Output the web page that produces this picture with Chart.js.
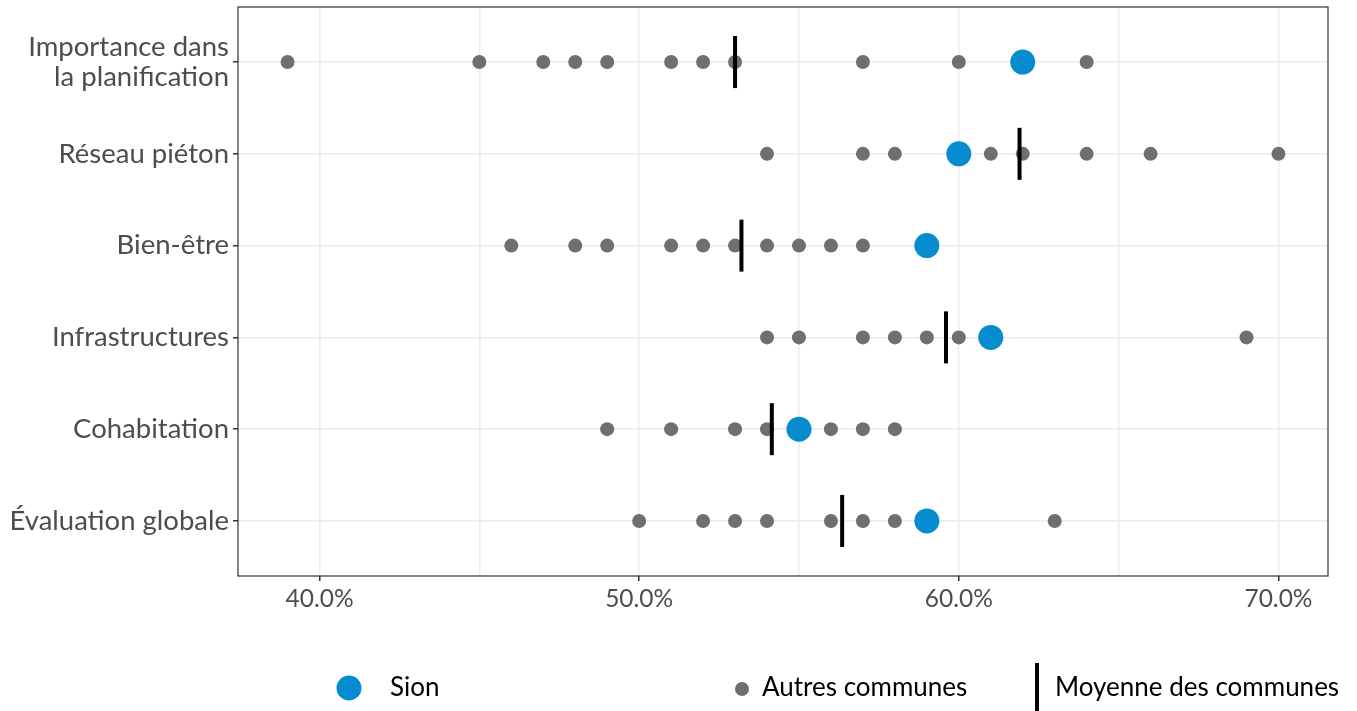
<!DOCTYPE html>
<html>
<head>
<meta charset="utf-8">
<script src="https://cdn.jsdelivr.net/npm/chart.js@4.4.1/dist/chart.umd.min.js"></script>
<style>
  html, body { margin: 0; padding: 0; background: #ffffff; }
  #wrap { position: relative; width: 1357px; height: 711px; }
</style>
</head>
<body>
<div id="wrap"><canvas id="c" width="1357" height="711"></canvas></div>
<script>
// ---- Data (top-to-bottom order of categories) ----
const categories = [
  ["Importance dans", "la planification"],
  "Réseau piéton",
  "Bien-être",
  "Infrastructures",
  "Cohabitation",
  "Évaluation globale"
];
const sionValues = [62, 60, 59, 61, 55, 59];
const meanValues = [53.0, 61.9, 53.2, 59.6, 54.15, 56.35];
const otherValues = [
  [39, 45, 47, 48, 49, 51, 52, 53, 57, 60, 64],
  [54, 57, 58, 61, 62, 64, 66, 70],
  [46, 48, 49, 51, 52, 53, 54, 55, 56, 57],
  [54, 55, 57, 58, 59, 60, 69],
  [49, 51, 53, 54, 56, 57, 58],
  [50, 52, 53, 54, 56, 57, 58, 63]
];
const xTicks = [40, 45, 50, 55, 60, 65, 70];
const legendLabels = ["Sion", "Autres communes", "Moyenne des communes"];

// ---- Build datasets ----
const n = categories.length;
const rowPos = i => n - 1 - i;
const otherPts = [];
otherValues.forEach((arr, i) => arr.forEach(v => otherPts.push({ x: v, y: rowPos(i) })));
const sionPts = sionValues.map((v, i) => ({ x: v, y: rowPos(i) }));
const meanPts = meanValues.map((v, i) => ({ x: v, y: rowPos(i) }));

const BLUE = '#078bcf';
const GREY = '#6f6f6f';
const FONT = 'Lato, "Open Sans", sans-serif';

const panelBorder = {
  id: 'panelBorder',
  beforeDatasetsDraw(chart) {
    const { ctx, chartArea: a } = chart;
    ctx.save();
    ctx.strokeStyle = '#333333';
    ctx.lineWidth = 1.2;
    ctx.strokeRect(a.left, a.top, a.right - a.left, a.bottom - a.top);
    ctx.restore();
  }
};

// y-axis category labels, placed with the y scale
const yLabels = {
  id: 'yLabels',
  afterDraw(chart) {
    const { ctx } = chart;
    const ys = chart.scales.y;
    const xRight = chart.chartArea.left - 9;
    ctx.save();
    ctx.font = '27.5px ' + FONT;
    ctx.fillStyle = '#4d4d4d';
    ctx.textAlign = 'right';
    ctx.textBaseline = 'middle';
    const lh = 30;
    categories.forEach((lab, i) => {
      const y = ys.getPixelForValue(rowPos(i));
      const lines = Array.isArray(lab) ? lab : [lab];
      const y0 = y - (lines.length - 1) * lh / 2;
      lines.forEach((t, k) => ctx.fillText(t, xRight, y0 + k * lh));
    });
    ctx.restore();
  }
};

const customLegend = {
  id: 'customLegend',
  afterDraw(chart) {
    const { ctx } = chart;
    const cy = 688;
    ctx.save();
    ctx.font = '26px ' + FONT;
    ctx.fillStyle = '#000000';
    ctx.textBaseline = 'middle';
    // Sion
    ctx.beginPath(); ctx.fillStyle = BLUE; ctx.arc(349, cy, 12.5, 0, Math.PI * 2); ctx.fill();
    ctx.fillStyle = '#000'; ctx.fillText(legendLabels[0], 390, cy);
    // Autres
    ctx.beginPath(); ctx.fillStyle = GREY; ctx.arc(742, cy + 1, 7, 0, Math.PI * 2); ctx.fill();
    ctx.fillStyle = '#000'; ctx.fillText(legendLabels[1], 762, cy);
    // Moyenne
    ctx.fillStyle = '#000'; ctx.fillRect(1035, 663, 4, 48);
    ctx.fillText(legendLabels[2], 1055, cy);
    ctx.restore();
  }
};

new Chart(document.getElementById('c'), {
  type: 'scatter',
  data: {
    datasets: [
      {
        label: legendLabels[0], data: sionPts, order: 0,
        backgroundColor: BLUE, borderColor: BLUE, borderWidth: 0,
        pointRadius: 12.5, pointHoverRadius: 12.5
      },
      {
        label: legendLabels[2], data: meanPts, order: 1,
        pointStyle: 'line', rotation: 90,
        borderColor: '#000000', backgroundColor: '#000000', borderWidth: 4,
        pointRadius: 26, pointHoverRadius: 26
      },
      {
        label: legendLabels[1], data: otherPts, order: 2,
        backgroundColor: GREY, borderColor: GREY, borderWidth: 0,
        pointRadius: 7, pointHoverRadius: 7
      }
    ]
  },
  options: {
    responsive: false,
    animation: false,
    devicePixelRatio: 1,
    layout: { autoPadding: false, padding: { left: 0, right: 29, top: 7, bottom: 95 } },
    plugins: { legend: { display: false }, tooltip: { enabled: false } },
    scales: {
      x: {
        type: 'linear', min: 37.45, max: 71.55,
        afterBuildTicks: s => { s.ticks = xTicks.map(v => ({ value: v })); },
        afterFit: s => { s.height = 40; },
        border: { display: false },
        grid: {
          color: '#ebebeb', lineWidth: 1.5, drawTicks: true, tickLength: 5,
          tickColor: c => (c.tick && c.tick.value % 10 === 0) ? '#333333' : 'rgba(0,0,0,0)'
        },
        ticks: {
          color: '#4d4d4d', font: { family: FONT, size: 24.5 }, padding: 3,
          maxRotation: 0, autoSkip: false,
          callback: v => (v % 10 === 0) ? v.toFixed(1) + '%' : ''
        }
      },
      y: {
        type: 'linear', min: -0.6, max: n - 1 + 0.6,
        afterBuildTicks: s => { s.ticks = categories.map((c, i) => ({ value: i })); },
        afterFit: s => { s.width = 238; },
        border: { display: false },
        grid: { color: '#ebebeb', lineWidth: 1.5, drawTicks: true, tickLength: 5, tickColor: '#333333' },
        ticks: { display: false }
      }
    }
  },
  plugins: [panelBorder, yLabels, customLegend]
});
</script>
</body>
</html>
